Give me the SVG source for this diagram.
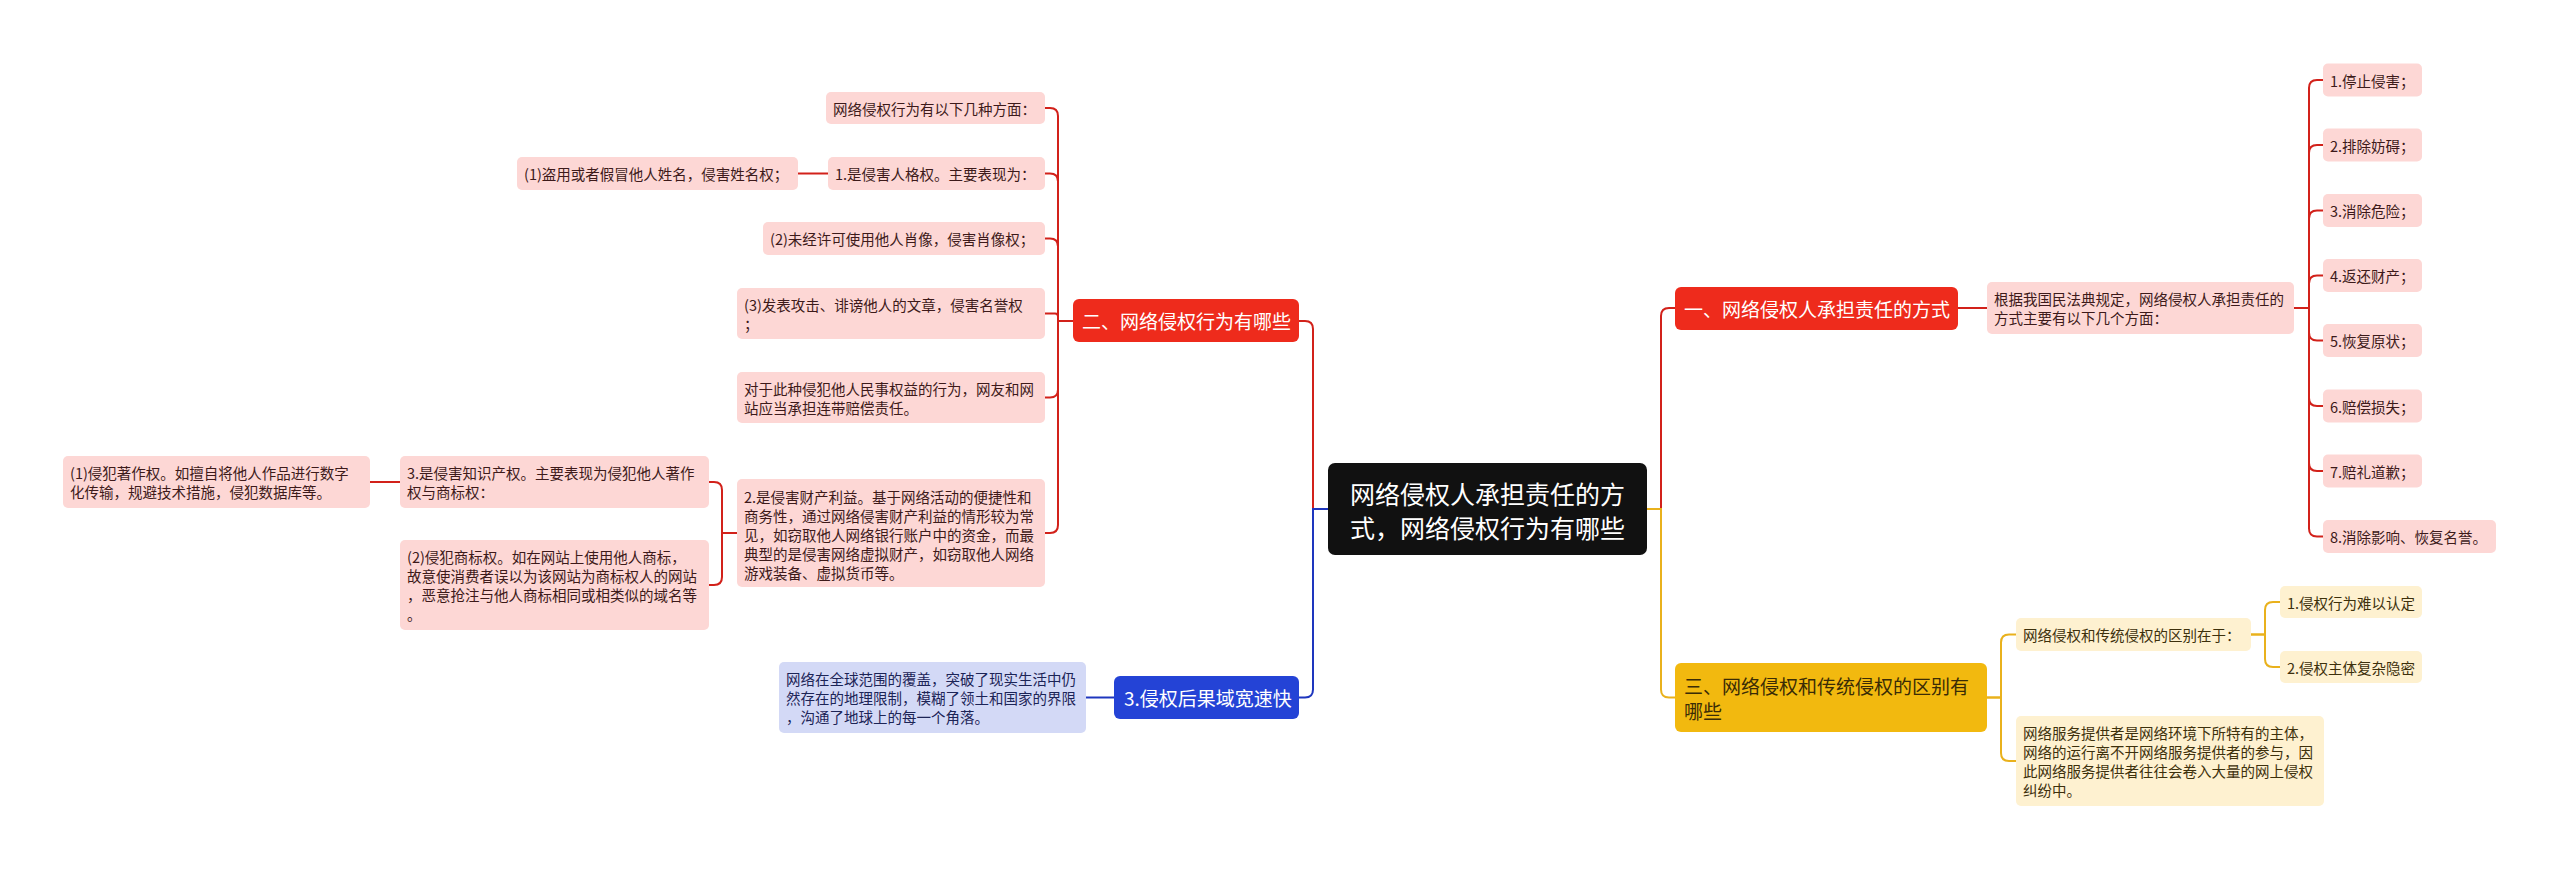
<svg xmlns="http://www.w3.org/2000/svg" width="2560" height="869" viewBox="0 0 2560 869">
<style>
text{font-family:"Noto Sans CJK SC","Noto Sans",sans-serif;}
.c{font-size:14.5px;dominant-baseline:central;}
.pk rect{fill:#FDD7D5;}
.pk text{fill:#3d1a1a;}
.bl rect{fill:#D3D9F6;}
.bl text{fill:#1c2456;}
.yl rect{fill:#FEF1D0;}
.yl text{fill:#3d300c;}
.m{font-size:19px;dominant-baseline:central;}
.red path{stroke:#D2211A;}
.blu path{stroke:#1E36BE;}
.yel path{stroke:#E9B11C;}
#connectors path{fill:none;stroke-width:2;}
</style>
<rect width="2560" height="869" fill="#ffffff"/>
<g id="connectors">
<g class="red">
<path d="M1328,509 H1313 V329 Q1313,321 1305,321 H1299"/>
<path d="M1073,321 H1058 V116 Q1058,108 1050,108 H1045"/>
<path d="M1073,321 H1058 V181.5 Q1058,173.5 1050,173.5 H1045"/>
<path d="M1073,321 H1058 V246.5 Q1058,238.5 1050,238.5 H1045"/>
<path d="M1073,321 H1058 V316.5 Q1058,313.5 1055,313.5 H1045"/>
<path d="M1073,321 H1058 V389.5 Q1058,397.5 1050,397.5 H1045"/>
<path d="M1073,321 H1058 V525 Q1058,533 1050,533 H1045"/>
<path d="M828,173.5 H798"/>
<path d="M737,533 H722 V490 Q722,482 714,482 H709"/>
<path d="M737,533 H722 V577 Q722,585 714,585 H709"/>
<path d="M400,482 H370"/>
<path d="M1647,509 H1661 V316 Q1661,308 1669,308 H1675"/>
<path d="M1958,308 H1987"/>
<path d="M2294,308 H2309 V88 Q2309,80 2317,80 H2323"/>
<path d="M2294,308 H2309 V153 Q2309,145 2317,145 H2323"/>
<path d="M2294,308 H2309 V218.5 Q2309,210.5 2317,210.5 H2323"/>
<path d="M2294,308 H2309 V283.5 Q2309,275.5 2317,275.5 H2323"/>
<path d="M2294,308 H2309 V332.5 Q2309,340.5 2317,340.5 H2323"/>
<path d="M2294,308 H2309 V398 Q2309,406 2317,406 H2323"/>
<path d="M2294,308 H2309 V463 Q2309,471 2317,471 H2323"/>
<path d="M2294,308 H2309 V528.5 Q2309,536.5 2317,536.5 H2323"/>
</g>
<g class="blu">
<path d="M1328,509 H1313 V689.5 Q1313,697.5 1305,697.5 H1299"/>
<path d="M1114,697.5 H1086"/>
</g>
<g class="yel">
<path d="M1647,509 H1661 V689.5 Q1661,697.5 1669,697.5 H1675"/>
<path d="M1987,697.5 H2001 V642.5 Q2001,634.5 2009,634.5 H2016"/>
<path d="M1987,697.5 H2001 V753 Q2001,761 2009,761 H2016"/>
<path d="M2251,634.5 H2265 V610 Q2265,602 2273,602 H2280"/>
<path d="M2251,634.5 H2265 V659 Q2265,667 2273,667 H2280"/>
</g>
</g>

<g id="root">
<rect x="1328" y="463" width="319" height="92" rx="7" fill="#111111"/>
<text x="1487.5" y="493" font-size="25" fill="#ffffff" text-anchor="middle" dominant-baseline="central">网络侵权人承担责任的方</text>
<text x="1487.5" y="527" font-size="25" fill="#ffffff" text-anchor="middle" dominant-baseline="central">式，网络侵权行为有哪些</text>
</g>

<g id="main2">
<rect x="1073" y="299" width="226" height="43" rx="6" fill="#EE2B1C"/>
<text class="m" x="1082" y="320.5" fill="#ffffff">二、网络侵权行为有哪些</text>
</g>
<g id="main1">
<rect x="1675" y="287" width="283" height="43" rx="6" fill="#EE2B1C"/>
<text class="m" x="1684" y="308.5" fill="#ffffff">一、网络侵权人承担责任的方式</text>
</g>
<g id="main3">
<rect x="1114" y="676" width="185" height="43" rx="6" fill="#2443D6"/>
<text class="m" x="1124" y="697.5" fill="#ffffff">3.侵权后果域宽速快</text>
</g>
<g id="main4">
<rect x="1675" y="663" width="312" height="69" rx="6" fill="#F2B90F"/>
<text class="m" x="1684" y="685" fill="#3a2c06">三、网络侵权和传统侵权的区别有</text>
<text class="m" x="1684" y="710" fill="#3a2c06">哪些</text>
</g>

<g id="l1" class="pk"><rect x="826" y="92" width="219" height="32" rx="5"/><text class="c" x="833" y="108">网络侵权行为有以下几种方面：</text></g>
<g id="l2" class="pk"><rect x="828" y="157" width="217" height="33" rx="5"/><text class="c" x="835" y="173.5">1.是侵害人格权。主要表现为：</text></g>
<g id="l2a" class="pk"><rect x="517" y="157" width="281" height="33" rx="5"/><text class="c" x="524" y="173.5">(1)盗用或者假冒他人姓名，侵害姓名权；</text></g>
<g id="l3" class="pk"><rect x="763" y="222" width="282" height="33" rx="5"/><text class="c" x="770" y="238.5">(2)未经许可使用他人肖像，侵害肖像权；</text></g>
<g id="l4" class="pk"><rect x="737" y="288" width="308" height="51" rx="5"/><text class="c" x="744" y="304">(3)发表攻击、诽谤他人的文章，侵害名誉权</text><text class="c" x="744" y="323">；</text></g>
<g id="l5" class="pk"><rect x="737" y="372" width="308" height="51" rx="5"/><text class="c" x="744" y="388">对于此种侵犯他人民事权益的行为，网友和网</text><text class="c" x="744" y="407">站应当承担连带赔偿责任。</text></g>
<g id="l6" class="pk"><rect x="737" y="479" width="308" height="108" rx="5"/>
<text class="c" x="744" y="496">2.是侵害财产利益。基于网络活动的便捷性和</text>
<text class="c" x="744" y="515">商务性，通过网络侵害财产利益的情形较为常</text>
<text class="c" x="744" y="534">见，如窃取他人网络银行账户中的资金，而最</text>
<text class="c" x="744" y="553">典型的是侵害网络虚拟财产，如窃取他人网络</text>
<text class="c" x="744" y="572">游戏装备、虚拟货币等。</text></g>
<g id="l6a" class="pk"><rect x="400" y="456" width="309" height="52" rx="5"/><text class="c" x="407" y="472.5">3.是侵害知识产权。主要表现为侵犯他人著作</text><text class="c" x="407" y="491.5">权与商标权：</text></g>
<g id="l6a1" class="pk"><rect x="63" y="456" width="307" height="52" rx="5"/><text class="c" x="70" y="472.5">(1)侵犯著作权。如擅自将他人作品进行数字</text><text class="c" x="70" y="491.5">化传输，规避技术措施，侵犯数据库等。</text></g>
<g id="l6b" class="pk"><rect x="400" y="540" width="309" height="90" rx="5"/>
<text class="c" x="407" y="556.5">(2)侵犯商标权。如在网站上使用他人商标，</text>
<text class="c" x="407" y="575.5">故意使消费者误以为该网站为商标权人的网站</text>
<text class="c" x="407" y="594.5">，恶意抢注与他人商标相同或相类似的域名等</text>
<text class="c" x="407" y="613.5">。</text></g>

<g id="b1" class="bl"><rect x="779" y="662" width="307" height="71" rx="5"/>
<text class="c" x="786" y="678.5">网络在全球范围的覆盖，突破了现实生活中仍</text>
<text class="c" x="786" y="697.5">然存在的地理限制，模糊了领土和国家的界限</text>
<text class="c" x="786" y="716.5">，沟通了地球上的每一个角落。</text></g>

<g id="r1" class="pk"><rect x="1987" y="282" width="307" height="52" rx="5"/><text class="c" x="1994" y="298.5">根据我国民法典规定，网络侵权人承担责任的</text><text class="c" x="1994" y="317.5">方式主要有以下几个方面：</text></g>
<g id="r1a" class="pk"><rect x="2323" y="63.5" width="99" height="33" rx="5"/><text class="c" x="2330" y="80">1.停止侵害；</text></g>
<g id="r1b" class="pk"><rect x="2323" y="128.5" width="99" height="33" rx="5"/><text class="c" x="2330" y="145">2.排除妨碍；</text></g>
<g id="r1c" class="pk"><rect x="2323" y="194" width="99" height="33" rx="5"/><text class="c" x="2330" y="210.5">3.消除危险；</text></g>
<g id="r1d" class="pk"><rect x="2323" y="259" width="99" height="33" rx="5"/><text class="c" x="2330" y="275.5">4.返还财产；</text></g>
<g id="r1e" class="pk"><rect x="2323" y="324" width="99" height="33" rx="5"/><text class="c" x="2330" y="340.5">5.恢复原状；</text></g>
<g id="r1f" class="pk"><rect x="2323" y="389.5" width="99" height="33" rx="5"/><text class="c" x="2330" y="406">6.赔偿损失；</text></g>
<g id="r1g" class="pk"><rect x="2323" y="454.5" width="99" height="33" rx="5"/><text class="c" x="2330" y="471">7.赔礼道歉；</text></g>
<g id="r1h" class="pk"><rect x="2323" y="520" width="173" height="33" rx="5"/><text class="c" x="2330" y="536.5">8.消除影响、恢复名誉。</text></g>

<g id="y1" class="yl"><rect x="2016" y="618" width="235" height="33" rx="5"/><text class="c" x="2023" y="634.5">网络侵权和传统侵权的区别在于：</text></g>
<g id="y1a" class="yl"><rect x="2280" y="586" width="142" height="32" rx="5"/><text class="c" x="2287" y="602">1.侵权行为难以认定</text></g>
<g id="y1b" class="yl"><rect x="2280" y="651" width="142" height="32" rx="5"/><text class="c" x="2287" y="667">2.侵权主体复杂隐密</text></g>
<g id="y2" class="yl"><rect x="2016" y="716" width="308" height="90" rx="5"/>
<text class="c" x="2023" y="732.5">网络服务提供者是网络环境下所特有的主体，</text>
<text class="c" x="2023" y="751.5">网络的运行离不开网络服务提供者的参与，因</text>
<text class="c" x="2023" y="770.5">此网络服务提供者往往会卷入大量的网上侵权</text>
<text class="c" x="2023" y="789.5">纠纷中。</text></g>
</svg>
